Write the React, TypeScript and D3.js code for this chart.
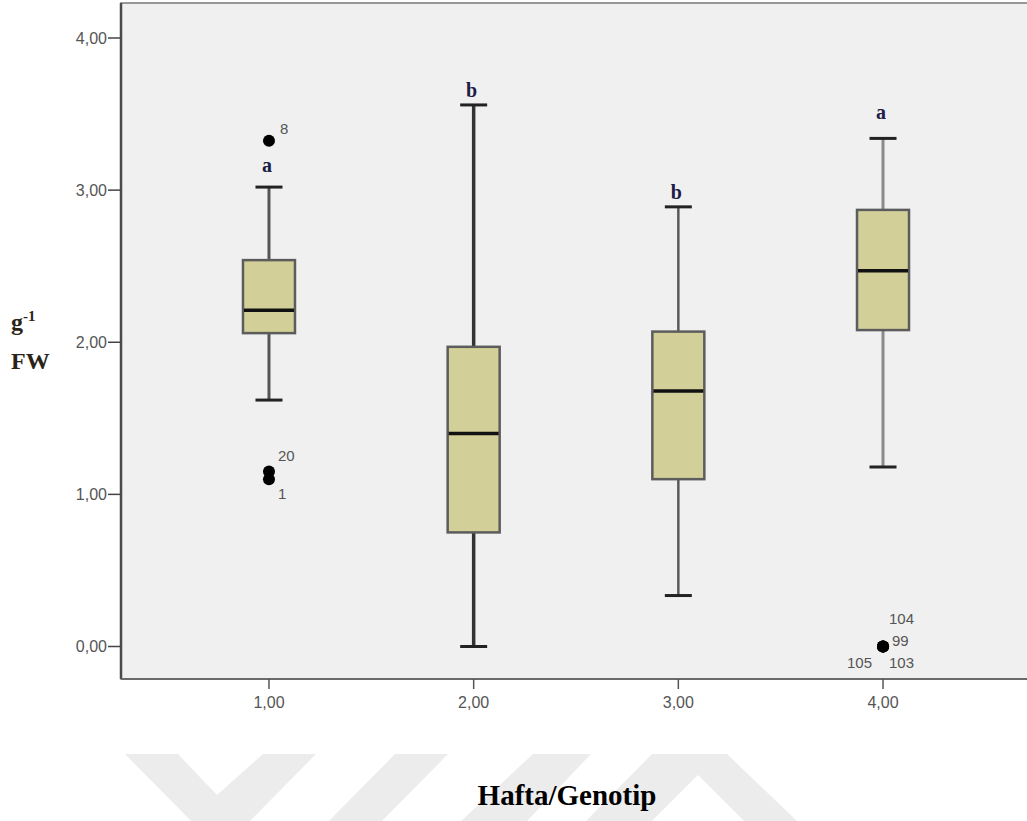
import { scaleLinear, format } from 'd3';
import { useEffect, useRef } from 'react';
import * as d3 from 'd3';

// box plot values (y axis: g-1 FW)
const groupKeys = [1, 2, 3, 4];
const lowerWhisker = [1.62, 0.0, 0.335, 1.18];
const q1 = [2.06, 0.75, 1.1, 2.08];
const median = [2.21, 1.4, 1.68, 2.47];
const q3 = [2.54, 1.97, 2.07, 2.87];
const upperWhisker = [3.02, 3.56, 2.89, 3.34];
// significance letters and the level they sit at
const letters = ['a', 'b', 'b', 'a'];
const letterLevels = [3.12, 3.61, 2.94, 3.47];
// outliers: group, value, case label
const outlierGroups = [1, 1, 1, 4, 4, 4, 4];
const outlierValues = [3.325, 1.15, 1.1, 0.0, 0.0, 0.0, 0.0];
const outlierLabels = ['8', '20', '1', '104', '99', '105', '103'];
const yTicks = [0, 1, 2, 3, 4];

// whisker stroke differs a bit between boxes in the picture
const whiskerColors = ['#555', '#333', '#5a5a5a', '#8a8a8a'];
const whiskerWidths = [3, 3.5, 2.5, 3];
// where each outlier label sits around its dot
const labelOffsets = {
  '8': [11, -12],
  '20': [9, -16],
  '1': [9, 14],
  '104': [6, -28],
  '99': [9, -6],
  '105': [-36, 16],
  '103': [6, 16],
};

const W = 1027;
const H = 821;

const App = () => {
  const svgRef = useRef();

  useEffect(() => {
    const svg = d3.select(svgRef.current);
    svg.selectAll('*').remove();

    const panel = { left: 121, top: 3, right: 1031, bottom: 679 };
    const x = scaleLinear().domain([0.277, 4.723]).range([panel.left, panel.right]);
    const y = scaleLinear().domain([0, 4]).range([646.5, 38]);
    const fmt = (v) => format('.2f')(v).replace('.', ',');

    // faint watermark at the bottom
    const wm = svg.append('g').attr('fill', '#ececec');
    [
      [[125, 754], [178, 754], [217, 795], [263, 754], [316, 754], [250, 821], [191, 821]],
      [[395, 754], [448, 754], [382, 821], [329, 821]],
      [[533, 754], [591, 754], [527, 821], [461, 821]],
      [[652, 754], [727, 754], [797, 821], [744, 821], [698, 775], [652, 821], [586, 821]],
    ].forEach((pts) => wm.append('polygon').attr('points', pts.map((p) => p.join(',')).join(' ')));

    // panel
    svg
      .append('rect')
      .attr('x', panel.left)
      .attr('y', panel.top)
      .attr('width', panel.right - panel.left)
      .attr('height', panel.bottom - panel.top)
      .attr('fill', '#f0f0f0')
      .attr('stroke', '#7a7a7a')
      .attr('stroke-width', 1.5);
    svg
      .append('line')
      .attr('x1', panel.left)
      .attr('x2', panel.left)
      .attr('y1', panel.top)
      .attr('y2', panel.bottom)
      .attr('stroke', '#4a4a4a')
      .attr('stroke-width', 2.5);
    svg
      .append('line')
      .attr('x1', panel.left)
      .attr('x2', W)
      .attr('y1', panel.bottom)
      .attr('y2', panel.bottom)
      .attr('stroke', '#6a6a6a')
      .attr('stroke-width', 2);

    // y axis
    const yAxis = svg.append('g');
    yTicks.forEach((t) => {
      yAxis
        .append('line')
        .attr('x1', panel.left - 13)
        .attr('x2', panel.left)
        .attr('y1', y(t))
        .attr('y2', y(t))
        .attr('stroke', '#444')
        .attr('stroke-width', 1.5);
      yAxis
        .append('text')
        .attr('x', panel.left - 14)
        .attr('y', y(t))
        .attr('dy', '0.36em')
        .attr('text-anchor', 'end')
        .attr('font-family', 'Liberation Sans, Arial, sans-serif')
        .attr('font-size', 16)
        .attr('fill', '#555')
        .text(fmt(t));
    });

    // x axis
    const xAxis = svg.append('g');
    groupKeys.forEach((g) => {
      xAxis
        .append('line')
        .attr('x1', x(g))
        .attr('x2', x(g))
        .attr('y1', panel.bottom)
        .attr('y2', panel.bottom + 10)
        .attr('stroke', '#555')
        .attr('stroke-width', 1.5);
      xAxis
        .append('text')
        .attr('x', x(g))
        .attr('y', 708)
        .attr('text-anchor', 'middle')
        .attr('font-family', 'Liberation Sans, Arial, sans-serif')
        .attr('font-size', 16)
        .attr('fill', '#555')
        .text(fmt(g));
    });

    // boxes
    const boxW = 52;
    const capW = 27;
    const boxes = svg.append('g');
    groupKeys.forEach((g, i) => {
      const cx = x(g);
      boxes
        .append('line')
        .attr('x1', cx)
        .attr('x2', cx)
        .attr('y1', y(upperWhisker[i]))
        .attr('y2', y(q3[i]))
        .attr('stroke', whiskerColors[i])
        .attr('stroke-width', whiskerWidths[i]);
      boxes
        .append('line')
        .attr('x1', cx)
        .attr('x2', cx)
        .attr('y1', y(q1[i]))
        .attr('y2', y(lowerWhisker[i]))
        .attr('stroke', whiskerColors[i])
        .attr('stroke-width', whiskerWidths[i]);
      [upperWhisker[i], lowerWhisker[i]].forEach((v) =>
        boxes
          .append('line')
          .attr('x1', cx - capW / 2)
          .attr('x2', cx + capW / 2)
          .attr('y1', y(v))
          .attr('y2', y(v))
          .attr('stroke', '#222')
          .attr('stroke-width', 3)
      );
      boxes
        .append('rect')
        .attr('x', cx - boxW / 2)
        .attr('y', y(q3[i]))
        .attr('width', boxW)
        .attr('height', y(q1[i]) - y(q3[i]))
        .attr('fill', '#d3cf98')
        .attr('stroke', '#5c5c5c')
        .attr('stroke-width', 2.5);
      boxes
        .append('line')
        .attr('x1', cx - boxW / 2 + 1)
        .attr('x2', cx + boxW / 2 - 1)
        .attr('y1', y(median[i]))
        .attr('y2', y(median[i]))
        .attr('stroke', '#111')
        .attr('stroke-width', 3.5);
      boxes
        .append('text')
        .attr('x', cx - 2)
        .attr('y', y(letterLevels[i]))
        .attr('text-anchor', 'middle')
        .attr('font-family', 'Liberation Serif, Times New Roman, serif')
        .attr('font-weight', 'bold')
        .attr('font-size', 20)
        .attr('fill', '#1d1d48')
        .text(letters[i]);
    });

    // outliers
    const outs = svg.append('g');
    outlierValues.forEach((v, i) => {
      const cx = x(outlierGroups[i]);
      outs
        .append('circle')
        .attr('cx', cx)
        .attr('cy', y(v))
        .attr('r', 6)
        .attr('fill', '#000');
      const off = labelOffsets[outlierLabels[i]];
      outs
        .append('text')
        .attr('x', cx + off[0])
        .attr('y', y(v) + off[1])
        .attr('dy', '0.36em')
        .attr('font-family', 'Liberation Sans, Arial, sans-serif')
        .attr('font-size', 15)
        .attr('fill', '#555')
        .text(outlierLabels[i]);
    });

    // y axis title
    const yt = svg
      .append('text')
      .attr('x', 11)
      .attr('y', 330)
      .attr('font-family', 'Liberation Serif, Times New Roman, serif')
      .attr('font-weight', 'bold')
      .attr('font-size', 24)
      .attr('fill', '#2a2418');
    yt.append('tspan').text('g');
    yt.append('tspan').attr('dy', -9).attr('font-size', 15).text('-1');
    svg
      .append('text')
      .attr('x', 11)
      .attr('y', 369)
      .attr('font-family', 'Liberation Serif, Times New Roman, serif')
      .attr('font-weight', 'bold')
      .attr('font-size', 24)
      .attr('fill', '#2a2418')
      .text('FW');

    // x axis title
    svg
      .append('text')
      .attr('x', 567)
      .attr('y', 805)
      .attr('text-anchor', 'middle')
      .attr('font-family', 'Liberation Serif, Times New Roman, serif')
      .attr('font-weight', 'bold')
      .attr('font-size', 29)
      .attr('fill', '#000')
      .text('Hafta/Genotip');
  }, []);

  return (
    <div style={{ position: 'absolute', left: 0, top: 0, width: W, height: H, overflow: 'hidden', background: '#fff' }}>
      <svg ref={svgRef} width={W} height={H} style={{ display: 'block' }} />
    </div>
  );
};

export default App;
